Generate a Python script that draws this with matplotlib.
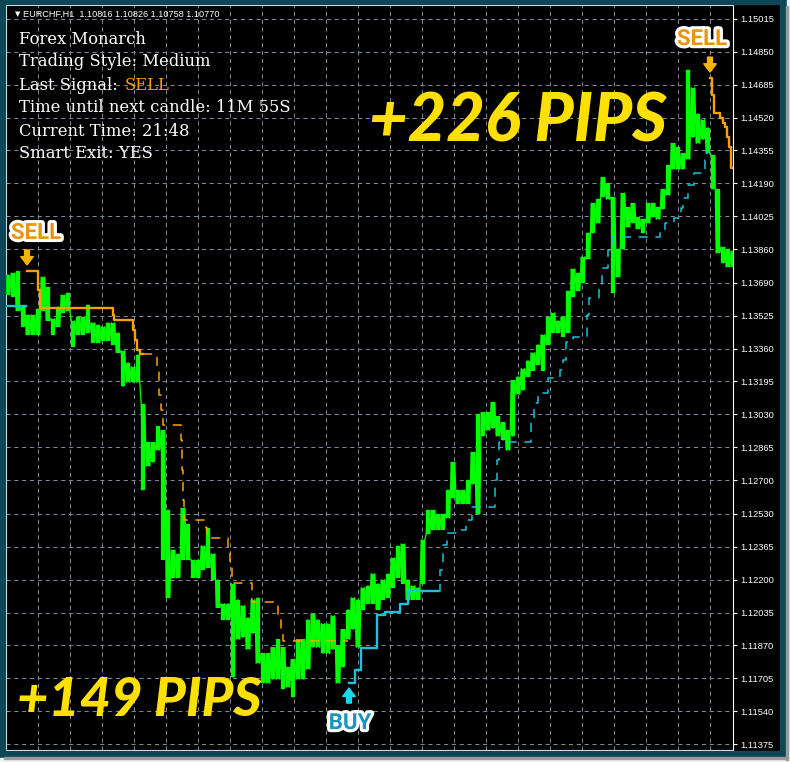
import matplotlib
matplotlib.use("Agg")
import matplotlib.pyplot as plt
from matplotlib import patheffects as pe
from matplotlib.patches import Rectangle

# ---------------- data (EURCHF H1) ----------------
bar_high = [1.1373, 1.1374, 1.1375, 1.1357, 1.1353, 1.1353, 1.1356, 1.1372, 1.1367, 1.1351,
            1.1357, 1.1363, 1.1364, 1.1350, 1.1352, 1.1352, 1.1358, 1.1349, 1.1348, 1.1347,
            1.1349, 1.1349, 1.1344, 1.1335, 1.1329, 1.1327, 1.1333, 1.1308, 1.1289, 1.1289,
            1.1297, 1.1295, 1.1255, 1.1235, 1.1233, 1.1256, 1.1248, 1.1230, 1.1230, 1.1237,
            1.1246, 1.1233, 1.1220, 1.1208, 1.1208, 1.1218, 1.1210, 1.1207, 1.1201, 1.1210,
            1.1211, 1.1183, 1.1183, 1.1186, 1.1190, 1.1186, 1.1176, 1.1180, 1.1190, 1.1190,
            1.1200, 1.1203, 1.1200, 1.1198, 1.1198, 1.1202, 1.1187, 1.1195, 1.1205, 1.1211,
            1.1210, 1.1216, 1.1217, 1.1223, 1.1218, 1.1220, 1.1223, 1.1231, 1.1237, 1.1238,
            1.1220, 1.1217, 1.1216, 1.1240, 1.1255, 1.1255, 1.1253, 1.1253, 1.1265, 1.1279,
            1.1265, 1.1265, 1.1270, 1.1284, 1.1303, 1.1304, 1.1304, 1.1309, 1.1302, 1.1299,
            1.1295, 1.1320, 1.1322, 1.1326, 1.1330, 1.1334, 1.1338, 1.1343, 1.1352, 1.1354,
            1.1350, 1.1352, 1.1365, 1.1376, 1.1374, 1.1382, 1.1394, 1.1409, 1.1411, 1.1422,
            1.1419, 1.1412, 1.1386, 1.1414, 1.1407, 1.1409, 1.1402, 1.1401, 1.1409, 1.1409,
            1.1407, 1.1416, 1.1428, 1.1439, 1.1437, 1.1434, 1.1476, 1.1467, 1.1454, 1.1451,
            1.1447, 1.1433, 1.1416, 1.1387, 1.1386, 1.1385]
bar_low = [1.1363, 1.1362, 1.1355, 1.1347, 1.1343, 1.1343, 1.1343, 1.1355, 1.1350, 1.1343,
           1.1347, 1.1354, 1.1355, 1.1337, 1.1343, 1.1343, 1.1344, 1.1339, 1.1339, 1.1340,
           1.1340, 1.1338, 1.1334, 1.1317, 1.1319, 1.1319, 1.1319, 1.1265, 1.1277, 1.1279,
           1.1285, 1.1230, 1.1211, 1.1221, 1.1221, 1.1230, 1.1230, 1.1221, 1.1221, 1.1225,
           1.1226, 1.1220, 1.1206, 1.1200, 1.1200, 1.1171, 1.1190, 1.1191, 1.1185, 1.1193,
           1.1178, 1.1168, 1.1168, 1.1170, 1.1170, 1.1165, 1.1166, 1.1161, 1.1170, 1.1170,
           1.1175, 1.1186, 1.1186, 1.1183, 1.1183, 1.1185, 1.1168, 1.1176, 1.1190, 1.1195,
           1.1186, 1.1205, 1.1208, 1.1208, 1.1205, 1.1210, 1.1211, 1.1216, 1.1221, 1.1218,
           1.1210, 1.1210, 1.1210, 1.1218, 1.1243, 1.1245, 1.1245, 1.1245, 1.1251, 1.1261,
           1.1258, 1.1258, 1.1258, 1.1268, 1.1253, 1.1292, 1.1295, 1.1296, 1.1292, 1.1290,
           1.1285, 1.1292, 1.1313, 1.1315, 1.1322, 1.1325, 1.1328, 1.1325, 1.1338, 1.1344,
           1.1344, 1.1342, 1.1344, 1.1362, 1.1365, 1.1369, 1.1381, 1.1394, 1.1399, 1.1412,
           1.1411, 1.1364, 1.1372, 1.1386, 1.1397, 1.1399, 1.1396, 1.1394, 1.1399, 1.1402,
           1.1401, 1.1406, 1.1413, 1.1426, 1.1426, 1.1426, 1.1431, 1.1442, 1.1439, 1.1441,
           1.1434, 1.1416, 1.1384, 1.1379, 1.1377, 1.1377]

# trailing stop lines (bar position of each step, stop level)
prev_buy_bars = [-0.4, 3.6]
prev_buy_stop = [1.13574, 1.13574]

sell1_bars = [3.8, 6.0, 6.4, 21.0, 21.2, 25.0, 25.4, 25.8, 26.4, 29.8, 30.2, 30.6, 31.0,
              34.6, 34.8, 35.0, 35.2, 39.6, 39.8, 44.0, 44.4, 44.8, 48.8, 54.0, 54.6, 55.0, 68.0]
sell1_stop = [1.13750, 1.13654, 1.13564, 1.13529, 1.13504, 1.13453, 1.13403, 1.13353, 1.13333,
              1.13253, 1.13127, 1.13052, 1.12977, 1.12901, 1.12751, 1.12600, 1.12500, 1.12459,
              1.12409, 1.12349, 1.12274, 1.12183, 1.12088, 1.12023, 1.11947, 1.11892, 1.11892]
sell1_solid_until = 27.0

buy_bars = [68.2, 69.4, 70.6, 73.8, 75.4, 78.4, 80.0, 86.4, 87.0, 87.8, 90.0, 91.6, 92.8,
            97.4, 97.8, 98.2, 104.6, 105.2, 106.0, 108.0, 110.4, 111.0, 111.6, 113.0, 115.8,
            116.2, 118.2, 118.8, 120.0, 120.8, 130.4, 131.4, 133.2, 134.6, 135.0, 136.0,
            137.2, 139.4, 139.8, 140.4]
buy_stop = [1.11681, 1.11747, 1.11857, 1.12023, 1.12038, 1.12078, 1.12143, 1.12249, 1.12374,
            1.12434, 1.12449, 1.12500, 1.12565, 1.12700, 1.12801, 1.12891, 1.13002, 1.13087,
            1.13137, 1.13212, 1.13253, 1.13303, 1.13393, 1.13418, 1.13529, 1.13614, 1.13679,
            1.13765, 1.13855, 1.13920, 1.13940, 1.13991, 1.14016, 1.14066, 1.14116, 1.14181,
            1.14242, 1.14307, 1.14347, 1.14347]
buy_solid_until = 86.0

sell2_bars = [140.4, 140.8, 141.2, 142.4, 143.0, 143.4, 143.8, 144.2, 144.6, 145.0]
sell2_stop = [1.14718, 1.14633, 1.14543, 1.14518, 1.14492, 1.14472, 1.14422, 1.14372,
              1.14267, 1.14267]

price_ticks = [1.15015, 1.14850, 1.14685, 1.14520, 1.14355, 1.14190, 1.14025, 1.13860,
               1.13690, 1.13525, 1.13360, 1.13195, 1.13030, 1.12865, 1.12700, 1.12530,
               1.12365, 1.12200, 1.12035, 1.11870, 1.11705, 1.11540, 1.11375]

header = "EURCHF,H1  1.10816 1.10826 1.10758 1.10770"
info_lines = ["Forex Monarch", "Trading Style: Medium", "Last Signal: ",
              "Time until next candle: 11M 55S", "Current Time: 21:48", "Smart Exit: YES"]
last_signal = "SELL"
pips_labels = ["+226 PIPS", "+149 PIPS"]

# ---------------- style ----------------
GREEN = "#00FF00"
ORANGE = "#FFA000"
CYAN = "#19C3DA"
GRID = "#7A8796"
YELLOW = "#FFE000"
FRAME = "#0D4756"

W, H = 790, 762
fig = plt.figure(figsize=(W / 100, H / 100), dpi=100, facecolor="black")


def frect(x0, y0, x1, y1, color):
    fig.patches.append(Rectangle((x0 / W, 1 - y1 / H), (x1 - x0) / W, (y1 - y0) / H,
                                 transform=fig.transFigure, color=color, zorder=0))


frect(0, 0, W, 4, FRAME)
frect(0, 0, 5, H, FRAME)
frect(780, 0, 787, 758, FRAME)
frect(0, 751, 787, 758, FRAME)
frect(787, 0, W, H, "#f2f2f2")
frect(0, 758, W, H, "#f2f2f2")
frect(786, 6, 788, 760, "#9a9a9a")
frect(4, 757, 788, 759, "#9a9a9a")

ax = fig.add_axes([6 / W, 1 - 750 / H, 727 / W, 745 / H])
ax.set_facecolor("black")
ax.set_xlim(-0.4, 145)
ax.set_ylim(1.11345, 1.15085)

for s in ax.spines.values():
    s.set_color("white")
    s.set_linewidth(0.8)

# grid
ax.set_xticks([-0.4 + 6.4 * k for k in range(1, 23)])
ax.tick_params(axis="x", length=0, labelbottom=False)
ax.yaxis.tick_right()
ax.set_yticks(price_ticks)
ax.set_yticklabels([f"{p:.5f}" for p in price_ticks])
ax.tick_params(axis="y", colors="white", labelcolor="white", length=3, width=0.8,
               pad=2.5, labelsize=6.7)
for lab in ax.get_yticklabels():
    lab.set_family("Liberation Sans")
ax.grid(True, color=GRID, linewidth=0.75, linestyle=(0, (4, 3.5)))
ax.set_axisbelow(True)

# price bars
n = len(bar_high)
xs = list(range(n))
ax.vlines(xs, bar_low, bar_high, color=GREEN, linewidth=3.1, zorder=3)
zx, zy = [], []
for i in xs:
    a, b = (bar_low[i], bar_high[i]) if i % 2 == 0 else (bar_high[i], bar_low[i])
    zx += [i - 0.35, i, i + 0.35]
    zy += [a, b, a]
ax.plot(zx, zy, color=GREEN, linewidth=0.9, zorder=3)


# trailing stops
def stop_line(bx, st, color, solid_until=None):
    if solid_until is None:
        ax.step(bx, st, where="post", color=color, lw=1.7, zorder=4)
        return
    k = max(j for j, b in enumerate(bx) if b <= solid_until)
    sx = bx[:k + 1] + [solid_until]
    sy = st[:k + 1] + [st[k]]
    ax.step(sx, sy, where="post", color=color, lw=1.7, zorder=4)
    dx = [solid_until] + bx[k + 1:]
    dy = [st[k]] + st[k + 1:]
    ax.step(dx, dy, where="post", color=color, lw=1.1, zorder=4,
            linestyle=(0, (6, 5)))


stop_line(prev_buy_bars, prev_buy_stop, CYAN)
stop_line(sell1_bars, sell1_stop, ORANGE, sell1_solid_until)
stop_line(buy_bars, buy_stop, CYAN, buy_solid_until)
stop_line(sell2_bars, sell2_stop, ORANGE)

# signal markers
outline = [pe.withStroke(linewidth=4.5, foreground="white")]
signals = [(sell1_bars[0], sell1_stop[0], "SELL", -1),
           (buy_bars[0], buy_stop[0], "BUY", 1),
           (sell2_bars[0], sell2_stop[0], "SELL", -1)]
label_off = {0: (9, 38), 1: (1, -40), 2: (-8, 39)}
for k, (bx, by, txt, d) in enumerate(signals):
    col_lab = "#E8940C" if txt == "SELL" else "#1894BD"
    col_arr = "#F5B400" if txt == "SELL" else "#18D8F0"
    if d < 0:
        tip, tail = 6, 21
    else:
        tip, tail = -5, -20
    ax.annotate("", xy=(bx, by), xytext=(0, tail), textcoords="offset pixels",
                xycoords="data",
                arrowprops=dict(arrowstyle="simple,head_width=0.9,head_length=0.6,tail_width=0.35",
                                color=col_arr, shrinkA=0, shrinkB=abs(tip) * 0.72),
                zorder=6)
    ox, oy = label_off[k]
    ax.annotate(txt, xy=(bx, by), xytext=(ox, oy), textcoords="offset pixels",
                ha="center", va="center", color=col_lab, family=["Roboto", "DejaVu Sans"],
                fontweight="bold", fontsize=16, path_effects=outline, zorder=7)

# header and info panel
ax.text(12 / 727, 1 - 9 / 745, "\u25BC", transform=ax.transAxes, color="white",
        fontsize=5, va="center", ha="center", family="DejaVu Sans")
ax.text(17 / 727, 1 - 9 / 745, header, transform=ax.transAxes, color="white",
        fontsize=6.6, va="center", ha="left", family="Liberation Sans")
line_y = [34, 57, 80, 103, 126, 149]
info_texts = []
for ln, yy in zip(info_lines, line_y):
    t = ax.text(13 / 727, 1 - yy / 745, ln, transform=ax.transAxes, color="white",
                fontsize=11.8, va="center", ha="left", family="DejaVu Serif", zorder=8)
    info_texts.append(t)
ax.annotate(last_signal, xy=(1, 0), xycoords=info_texts[2], xytext=(2, 0),
            textcoords="offset pixels", ha="left", va="bottom", color=ORANGE,
            fontsize=11.8, family="DejaVu Serif", zorder=8)

# big result labels
big = dict(color=YELLOW, fontweight="black", style="italic",
           family=["Lato", "Open Sans", "DejaVu Sans"], ha="center", va="center", zorder=8)
ax.text(512 / 727, 1 - 117 / 745, pips_labels[0], transform=ax.transAxes, fontsize=48, **big)
ax.text(133 / 727, 1 - 695 / 745, pips_labels[1], transform=ax.transAxes, fontsize=39, **big)

fig.savefig("out.png", dpi=100, facecolor=fig.get_facecolor())
